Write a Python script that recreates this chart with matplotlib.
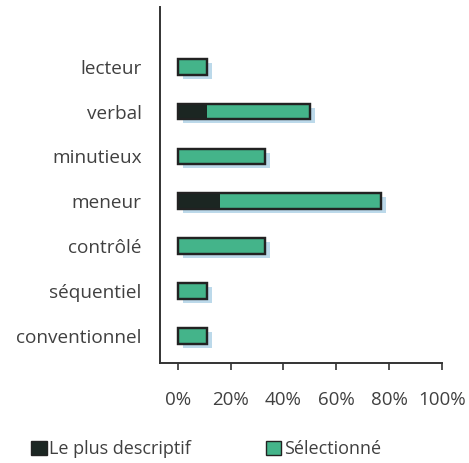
import matplotlib.pyplot as plt
import matplotlib.transforms as mtransforms
from matplotlib.patches import Patch

plt.rcParams['font.family'] = ['Open Sans', 'DejaVu Sans']

traits = ['conventionnel', 'séquentiel', 'contrôlé', 'meneur',
          'minutieux', 'verbal', 'lecteur']
selected = [11, 11, 33, 77, 33, 50, 11]
most_descriptive = [0, 0, 0, 16, 0, 11, 0]
xticks = [0, 20, 40, 60, 80, 100]

green = '#44b48a'
dark = '#1b2622'
shadow = '#bcd9ea'
text_col = '#404040'

fig = plt.figure(figsize=(4.69, 4.63), dpi=100)
ax = fig.add_axes([0.341, 0.216, 0.601, 0.769])

pos = list(range(len(traits)))
h = 0.35

# soft blue drop shadow behind each bar
shift = mtransforms.offset_copy(ax.transData, fig=fig, x=5, y=-4, units='dots')
ax.barh(pos, selected, height=h, color=shadow, linewidth=0,
        transform=shift, zorder=1)

ax.barh(pos, selected, height=h, color=green, edgecolor='#222222',
        linewidth=1.6, zorder=2)
ax.barh(pos, most_descriptive, height=h, color=dark, linewidth=0, zorder=3)
# redraw the outline on top of the dark part
ax.barh(pos, selected, height=h, color='none', edgecolor='#222222',
        linewidth=1.6, zorder=4)

ax.set_xlim(-6.8, 100)
ax.set_ylim(-0.6, 7.33)
ax.set_yticks(pos)
ax.set_yticklabels(traits)
ax.set_xticks(xticks)
ax.set_xticklabels([f'{v}%' for v in xticks])

for s in ['top', 'right']:
    ax.spines[s].set_visible(False)
for s in ['left', 'bottom']:
    ax.spines[s].set_color('#333333')
    ax.spines[s].set_linewidth(1.4)

ax.tick_params(axis='y', length=0, pad=13, labelsize=13.7, labelcolor=text_col)
ax.tick_params(axis='x', direction='out', length=5, width=1.2, color='#333333',
               pad=15, labelsize=13.5, labelcolor=text_col)

handles = [Patch(facecolor=dark, edgecolor='#222222', label='Le plus descriptif'),
           Patch(facecolor=green, edgecolor='#222222', label='Sélectionné')]
fig.legend(handles=handles, loc='center left', bbox_to_anchor=(0.032, 0.03),
           ncol=2, frameon=False, handlelength=0.85, handleheight=0.85,
           handletextpad=0.15, columnspacing=4.15, fontsize=13,
           labelcolor=text_col)

fig.savefig('out.png', dpi=100, facecolor='white')
